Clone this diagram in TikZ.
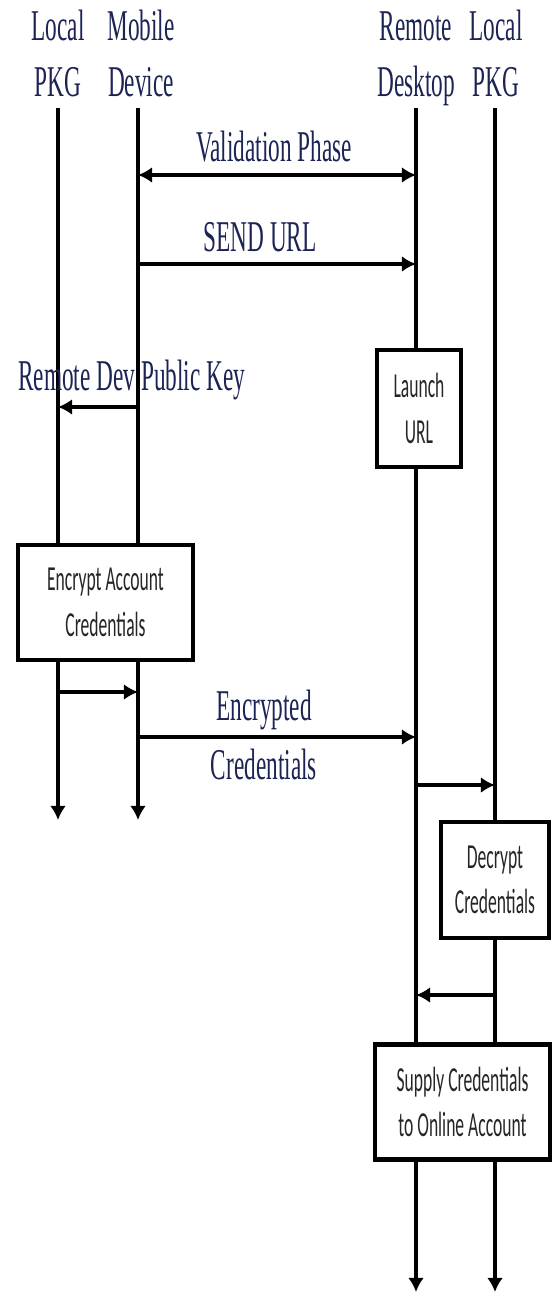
\documentclass[tikz,border=0pt]{standalone}
\usepackage{fontspec}
\setmainfont{Liberation Serif}
\newfontfamily\msgfont[FakeStretch=0.53]{Liberation Serif}
\newfontfamily\boxfont[FakeStretch=0.5]{Carlito}
\usetikzlibrary{arrows.meta}
\definecolor{msgblue}{RGB}{28,36,86}
\tikzset{>={Latex[length=8pt,width=9pt]}}
\tikzset{
  head/.style={align=center, inner sep=0pt, anchor=north, text=msgblue, font=\msgfont\fontsize{25}{32}\selectfont},
  msg/.style={align=center, inner sep=0pt, text=msgblue, font=\msgfont\fontsize{25}{34}\selectfont},
  action/.style={draw, line width=2.8pt, fill=white, align=center, inner sep=0pt, text=black!85, font=\boxfont\fontsize{20}{26}\selectfont},
  life/.style={line width=2.1pt},
}

\begin{document}
\begin{tikzpicture}[x=0.02cm, y=-0.02cm]
      \useasboundingbox (0,0) rectangle (557,1295);
      % lifeline heads
      \node[head] (h1) at (58,1) {\strut Local\\PKG};
      \node[head] (h2) at (141,1) {\strut Mobile\\Device};
      \node[head] (h3) at (416,1) {\strut Remote\\Desktop};
      \node[head] (h4) at (496,1) {\strut Local\\PKG};
      \coordinate (t1) at (58,108);
      \coordinate (t2) at (138,108);
      \coordinate (t3) at (416,108);
      \coordinate (t4) at (495,108);
      \coordinate (b1) at (58,820);
      \coordinate (b2) at (138,820);
      \coordinate (b3) at (416,1292);
      \coordinate (b4) at (495,1292);

      % action boxes
      \node[action, minimum width=3.5cm, minimum height=2.3cm] (enc) at (105.5,602.5) {Encrypt Account\\Credentials};
      \node[action, minimum width=1.68cm, minimum height=2.34cm] (launch) at (419,408.5) {Launch\\URL};
      \node[action, minimum width=2.16cm, minimum height=2.32cm] (dec) at (495,880) {Decrypt\\Credentials};
      \node[action, minimum width=3.5cm, minimum height=2.3cm] (supply) at (462.5,1102) {Supply Credentials\\to Online Account};

      % lifelines
      \draw[life] (t1) -- (t1 |- enc.north);
      \draw[life] (t2) -- (t2 |- enc.north);
      \draw[life,->] (t1 |- enc.south) -- (b1);
      \draw[life,->] (t2 |- enc.south) -- (b2);
      \draw[life] (t3) -- (t3 |- launch.north);
      \draw[life] (t3 |- launch.south) -- (t3 |- supply.north);
      \draw[life,->] (t3 |- supply.south) -- (b3);
      \draw[life] (t4) -- (t4 |- dec.north);
      \draw[life] (t4 |- dec.south) -- (t4 |- supply.north);
      \draw[life,->] (t4 |- supply.south) -- (b4);

      % messages
      \coordinate (m1) at (138,175);
      \coordinate (m2) at (138,264);
      \coordinate (m3) at (138,407);
      \coordinate (m4) at (58,692);
      \coordinate (m5) at (138,737);
      \coordinate (m6) at (416,785);
      \coordinate (m7) at (495,995);
      \draw[life,<->] (m1) -- (m1 -| t3);
      \draw[life,->] (m2) -- (m2 -| t3);
      \draw[life,->] (m3) -- (m3 -| t1);
      \draw[life,->] (m4) -- (m4 -| t2);
      \draw[life,->] (m5) -- (m5 -| t3);
      \draw[life,->] (m6) -- (m6 -| t4);
      \draw[life,->] (m7) -- (m7 -| t3);

      \node[msg] (l1) at (274,147) {Validation Phase};
      \node[msg] (l2) at (260,237) {SEND URL};
      \node[msg, anchor=west] (l3) at (18,380) {Remote Dev Public Key};
      \node[msg] (l5) at (264,735) {Encrypted\\Credentials};
    \end{tikzpicture}
\end{document}
